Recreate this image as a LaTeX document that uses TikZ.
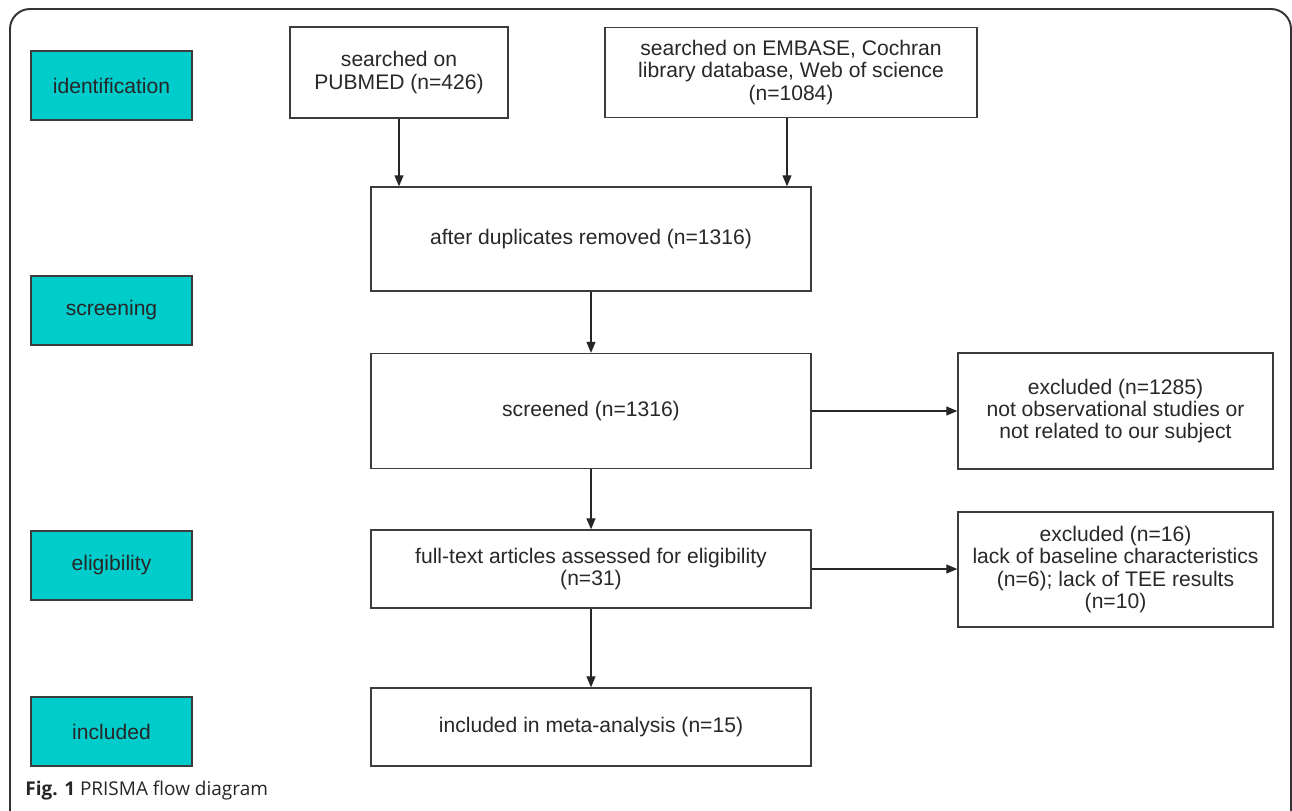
\documentclass[tikz,border=0pt]{standalone}
\usepackage{fontspec}
\setmainfont{Liberation Sans}
\newfontfamily\capfont{Open Sans}
\usetikzlibrary{arrows.meta,positioning}
\definecolor{stagefill}{RGB}{0,204,204}
\definecolor{linegray}{RGB}{60,60,60}
\definecolor{textgray}{RGB}{40,40,40}

\begin{document}
\begin{tikzpicture}[x=0.2mm,y=-0.2mm,
  every node/.style={font=\fontsize{12}{12.6}\selectfont,text=textgray,align=center,inner sep=0pt},
  flowbox/.style={draw=linegray,line width=.8pt,fill=white,rectangle},
  stagebox/.style={draw=linegray,line width=.8pt,fill=stagefill,minimum width=32.2mm,minimum height=13.8mm,text=black!85},
  arr/.style={draw=black!85,line width=.7pt,-{Triangle[length=2.2mm,width=1.8mm]}}]
\useasboundingbox (0,0) rectangle (1292,810);
% outer frame
\draw[line width=1.1pt,draw=black!80,rounded corners=4mm] (10,812) -- (10,9) -- (1291,9) -- (1291,812);
% stage labels
\node[stagebox] (sid) at (111.5,85.5) {identification};
\node[stagebox] (sscr) at (111.5,310.5) {screening};
\node[stagebox] (selig) at (111.5,565.5) {eligibility};
\node[stagebox] (sincl) at (111.5,731.5) {included};
% flow boxes
\node[flowbox,minimum width=43.6mm,minimum height=18.2mm] (pubmed) at (399,72.5) {searched on\\PUBMED (n=426)};
\node[flowbox,minimum width=74.4mm,minimum height=18mm] (embase) at (791,72.5) {searched on EMBASE, Cochran\\library database, Web of science\\(n=1084)};
\node[flowbox,minimum width=88mm,minimum height=20.8mm] (dedup) at (591,239) {after duplicates removed (n=1316)};
\node[flowbox,minimum width=88mm,minimum height=23mm] (screen) at (591,411) {screened (n=1316)};
\node[flowbox,minimum width=88mm,minimum height=15.6mm] (fulltext) at (591,569) {full-text articles assessed for eligibility\\(n=31)};
\node[flowbox,minimum width=88mm,minimum height=15.6mm] (incl) at (591,727) {included in meta-analysis (n=15)};
\node[flowbox,minimum width=63mm,minimum height=23.2mm] (excl1) at (1115.5,411) {excluded (n=1285)\\not observational studies or\\not related to our subject};
\node[flowbox,minimum width=63mm,minimum height=23mm] (excl2) at (1115.5,569.5) {excluded (n=16)\\lack of baseline characteristics\\(n=6); lack of TEE results\\(n=10)};
% connectors
\draw[arr] (pubmed) -- (pubmed |- dedup.north);
\draw[arr] ([xshift=-0.8mm]embase.south) -- ([xshift=-0.8mm]embase.south |- dedup.north);
\draw[arr] (dedup) -- (screen);
\draw[arr] (screen) -- (excl1);
\draw[arr] (screen) -- (fulltext);
\draw[arr] (fulltext) -- (fulltext -| excl2.west);
\draw[arr] (fulltext) -- (incl);
% caption
\node[anchor=base west,font=\capfont\fontsize{10.8}{12}\selectfont,text=black!85] (cap) at (25,795) {\textbf{Fig. 1} PRISMA flow diagram};
\end{tikzpicture}
\end{document}
